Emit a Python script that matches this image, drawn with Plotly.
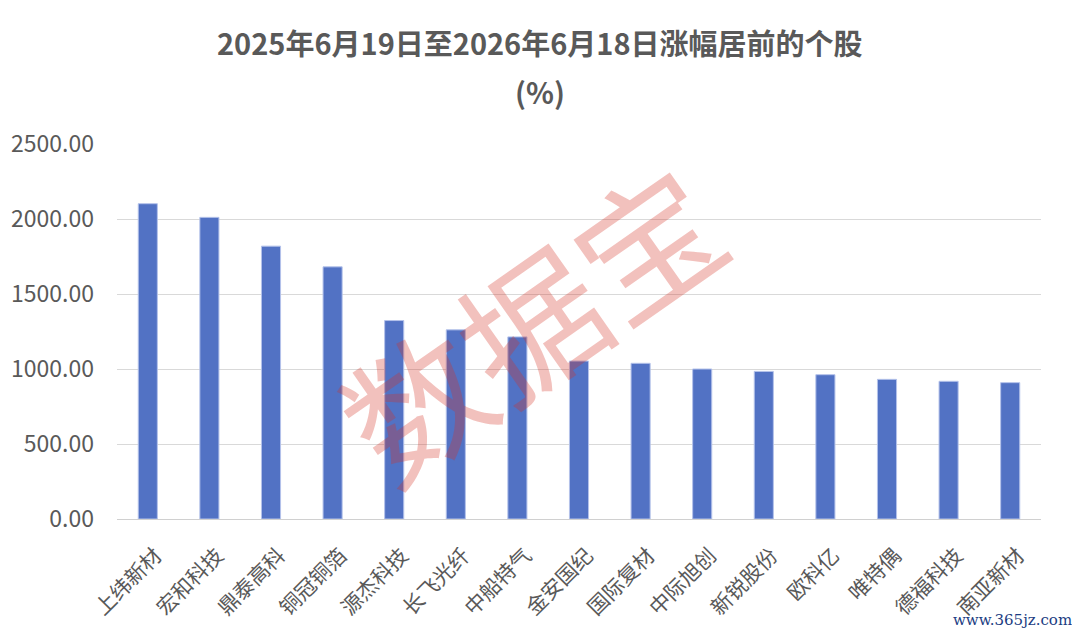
import plotly.graph_objects as go

# 个股名称与涨幅(%)
stocks = ["上纬新材", "宏和科技", "鼎泰高科", "铜冠铜箔", "源杰科技",
          "长飞光纤", "中船特气", "金安国纪", "国际复材", "中际旭创",
          "新锐股份", "欧科亿", "唯特偶", "德福科技", "南亚新材"]
gains = [2102, 2011, 1819, 1681, 1323,
         1261, 1214, 1053, 1038, 1000,
         984, 962, 931, 918, 909]
y_ticks = [0, 500, 1000, 1500, 2000, 2500]

title_line1 = "2025年6月19日至2026年6月18日涨幅居前的个股"
title_line2 = "(%)"

FONT = "Noto Sans CJK SC"
GREY = "#595959"

# 页面 body 有 8px 外边距，画布尺寸相应减小
W, H = 1072, 624
L, R, T, B = 109, 39, 136, 113
plot_w = W - L - R
plot_h = H - T - B


def px_x(x):
    """页面像素 x -> paper 坐标"""
    return (x - 8 - L) / plot_w


def px_y(y):
    """页面像素 y -> paper 坐标"""
    return (H - B - (y - 8)) / plot_h


fig = go.Figure()

fig.add_trace(go.Bar(
    x=stocks,
    y=gains,
    marker=dict(color="#5272C4", line=dict(color="#b4c2ea", width=1)),
    hoverinfo="x+y",
))

fig.update_layout(
    width=W,
    height=H,
    margin=dict(l=L, r=R, t=T, b=B, autoexpand=False),
    paper_bgcolor="white",
    plot_bgcolor="white",
    showlegend=False,
    bargap=0.69,
    font=dict(family=FONT, color=GREY),
    xaxis=dict(
        tickangle=-45,
        tickfont=dict(size=21, color=GREY),
        showgrid=False,
        showline=True,
        linecolor="#d0d0d0",
        linewidth=1,
        ticks="",
        ticklabelstandoff=15,
        ticklabelshift=8,
    ),
    yaxis=dict(
        range=[0, 2500],
        tickvals=y_ticks,
        ticktext=[f"{v:.2f}" for v in y_ticks],
        tickfont=dict(size=23, color=GREY),
        showgrid=True,
        gridcolor="#d9d9d9",
        gridwidth=1,
        zeroline=False,
        ticks="",
        ticklabelstandoff=22,
    ),
)

# 标题两行
fig.add_annotation(text=f"<b>{title_line1}</b>", x=px_x(540), y=px_y(42),
                   xref="paper", yref="paper", yanchor="middle", showarrow=False,
                   font=dict(size=29, color=GREY, family=FONT))
fig.add_annotation(text=f"<b>{title_line2}</b>", x=px_x(540), y=px_y(91),
                   xref="paper", yref="paper", yanchor="middle", showarrow=False,
                   font=dict(size=29, color=GREY, family=FONT))

# 水印
fig.add_annotation(text="数据宝", x=px_x(528), y=px_y(319), xref="paper", yref="paper",
                   showarrow=False, textangle=-35,
                   font=dict(size=141, color="rgba(212,49,36,0.3)", family=FONT))
fig.add_annotation(text="www.365jz.com", x=px_x(1074), y=px_y(620),
                   xref="paper", yref="paper", xanchor="right", yanchor="middle",
                   showarrow=False,
                   font=dict(size=15, color="#1b3c82", family="DejaVu Serif"))

fig.write_html("out.html")
